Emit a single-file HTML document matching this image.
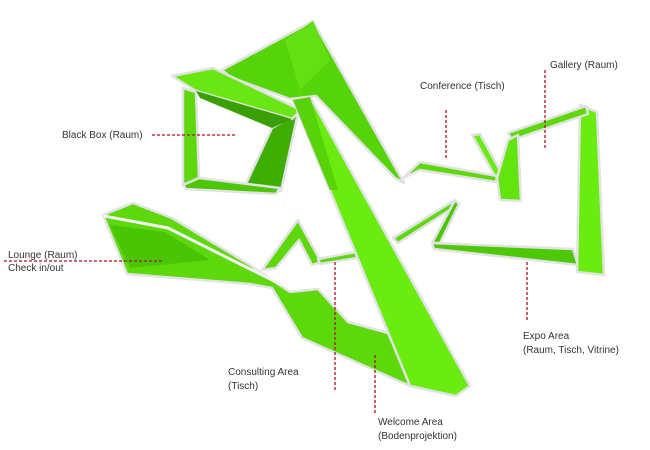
<!DOCTYPE html>
<html><head><meta charset="utf-8"><style>
html,body{margin:0;padding:0;background:#fff;}
svg{display:block;}
text{font-family:"Liberation Sans",sans-serif;font-size:10px;fill:#333;}
</style></head><body>
<svg width="650" height="450" viewBox="0 0 650 450">
<g stroke="#e2e2e2" stroke-width="2.5" stroke-linejoin="round">
<polygon points="222,70 313,21 404,183 395,178 316,96 290,99 230,77" fill="#55d40a"/>
<polygon points="285,40 313,21 330,60 300,90" fill="#62e012" stroke="none"/>
<polygon points="183,88 196,92 199,178 183,186" fill="#5ed80c"/>
<polygon points="272,128 298,113 281,191 246,184" fill="#3fae02"/>
<polygon points="183,185 199,178 280,188 276,194 186,189" fill="#4cc706"/>
<polygon points="172,76 213,68 301,110 292,119 196,91" fill="#6ae614"/>
<polygon points="196,91 292,119 272,128 200,98" fill="#3a9f02" stroke="none"/>
<polygon points="103,215 133,203 172,218 250,265 290,292 318,289 348,322 388,333 412,385 410,386 302,338 272,288 250,284 127,274" fill="#5cd80b"/>
<polyline points="104,216 168,228 252,270 282,285" fill="none" stroke="#f4f4f4" stroke-width="3"/>
<polygon points="110,225 165,232 210,260 130,268" fill="#4ac505" stroke="none"/>
<polygon points="262,270 298,220 321,262 312,265 299,240 276,268" fill="#5cd80b"/>
<polygon points="318,259 356,252 357,258 320,264" fill="#5cd80b"/>
<polygon points="293,100 310,97 470,386 456,396 410,386" fill="#6aec10"/>
<polygon points="293,100 310,97 338,190 330,190" fill="#58d30a" stroke="none"/>
<polygon points="393,238 455,200 459,204 398,243" fill="#5cd80b"/>
<polygon points="455,200 459,204 440,243 432,243" fill="#4cc706"/>
<polygon points="432,243 573,249 578,265 434,249" fill="#4dc807"/>
<polygon points="580,105 597,112 604,275 577,272" fill="#6aec10"/>
<polygon points="508,133 586,106 588,114 512,140" fill="#5cd80b"/>
<polygon points="472,135 480,134 502,174 497,180" fill="#6aec10"/>
<polygon points="497,178 508,140 518,135 521,201 500,200" fill="#64e40f"/>
<polygon points="403,178 420,162 497,176 496,182 420,170" fill="#5cd80b"/>
</g>
<g stroke="#b01020" stroke-width="1.3" stroke-dasharray="3,2" fill="none">
<line x1="152" y1="135" x2="235" y2="135"/>
<line x1="446" y1="110" x2="446" y2="160"/>
<line x1="545" y1="70" x2="545" y2="150"/>
<line x1="4" y1="261" x2="163" y2="261"/>
<line x1="335" y1="262" x2="335" y2="390"/>
<line x1="375" y1="355" x2="375" y2="415"/>
<line x1="527" y1="262" x2="527" y2="320"/>
</g>
<text x="62" y="138">Black Box (Raum)</text>
<text x="420" y="89">Conference (Tisch)</text>
<text x="550" y="68">Gallery (Raum)</text>
<text x="8" y="258">Lounge (Raum)</text>
<text x="8" y="271">Check in/out</text>
<text x="228" y="375">Consulting Area</text>
<text x="228" y="389">(Tisch)</text>
<text x="378" y="425">Welcome Area</text>
<text x="378" y="439">(Bodenprojektion)</text>
<text x="523" y="339">Expo Area</text>
<text x="523" y="353">(Raum, Tisch, Vitrine)</text>
</svg>
</body></html>
